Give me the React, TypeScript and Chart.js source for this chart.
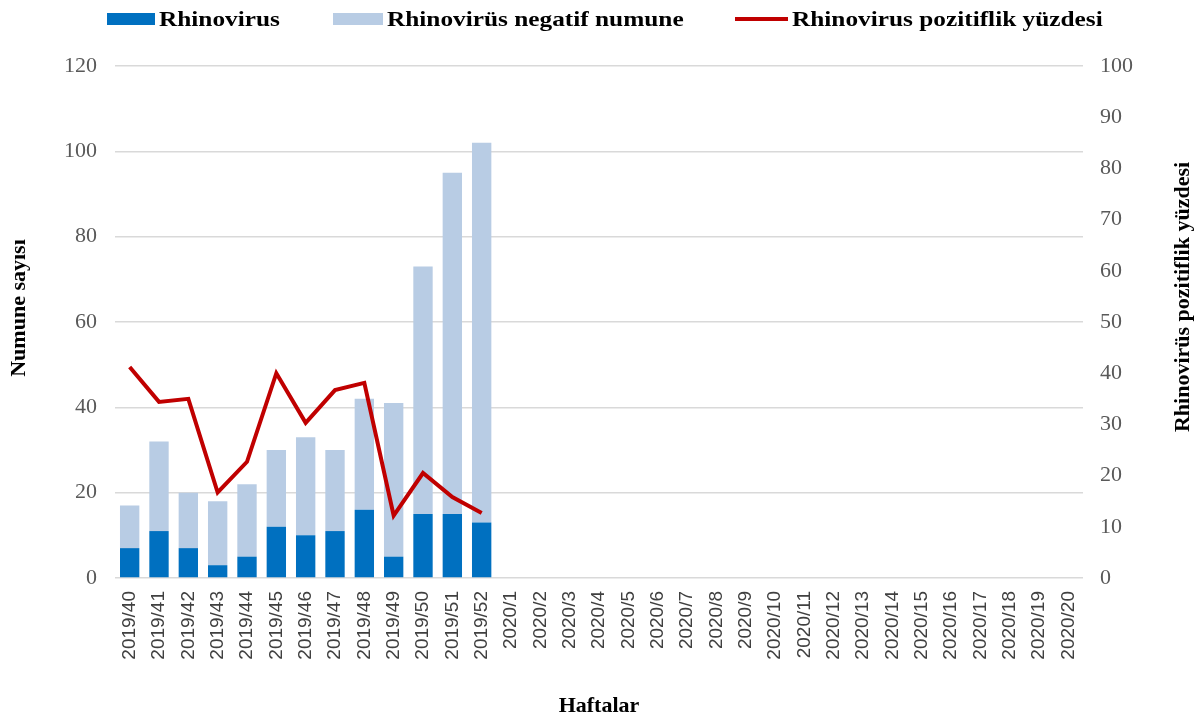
import React, { useEffect, useRef } from "react";
import { Chart, registerables } from "chart.js";

Chart.register(...registerables);

const weeks: string[] = [
  "2019/40", "2019/41", "2019/42", "2019/43", "2019/44", "2019/45", "2019/46",
  "2019/47", "2019/48", "2019/49", "2019/50", "2019/51", "2019/52",
  "2020/1", "2020/2", "2020/3", "2020/4", "2020/5", "2020/6", "2020/7",
  "2020/8", "2020/9", "2020/10", "2020/11", "2020/12", "2020/13", "2020/14",
  "2020/15", "2020/16", "2020/17", "2020/18", "2020/19", "2020/20",
];

const N = null;
const rhinovirus: (number | null)[] = [
  7, 11, 7, 3, 5, 12, 10, 11, 16, 5, 15, 15, 13,
  N, N, N, N, N, N, N, N, N, N, N, N, N, N, N, N, N, N, N, N,
];
const negatif: (number | null)[] = [
  10, 21, 13, 15, 17, 18, 23, 19, 26, 36, 58, 80, 89,
  N, N, N, N, N, N, N, N, N, N, N, N, N, N, N, N, N, N, N, N,
];
const pozitiflik: (number | null)[] = [
  41.2, 34.4, 35.0, 16.7, 22.7, 40.0, 30.3, 36.7, 38.1, 12.2, 20.5, 15.8, 12.7,
  N, N, N, N, N, N, N, N, N, N, N, N, N, N, N, N, N, N, N, N,
];

const leftTicks = { min: 0, max: 120, step: 20 };
const rightTicks = { min: 0, max: 100, step: 10 };

const seriesNames = ["Rhinovirus", "Rhinovirüs negatif numune", "Rhinovirus pozitiflik yüzdesi"];
const leftTitle = "Numune sayısı";
const rightTitle = "Rhinovirüs pozitiflik yüzdesi";
const xTitle = "Haftalar";

const SERIF = "'Liberation Serif', 'Times New Roman', serif";
const SANS = "'Liberation Sans', Arial, sans-serif";

const legendPlugin = {
  id: "customLegend",
  afterDraw(chart: any) {
    const ctx = chart.ctx;
    const xs = [107, 333, 735];
    const sw = [48, 50, 53];
    const cy = 19;
    ctx.save();
    chart.data.datasets.forEach((ds: any, i: number) => {
      const x = xs[i];
      if (ds.type === "line") {
        ctx.strokeStyle = ds.borderColor;
        ctx.lineWidth = 4;
        ctx.beginPath();
        ctx.moveTo(x, cy);
        ctx.lineTo(x + sw[i], cy);
        ctx.stroke();
      } else {
        ctx.fillStyle = ds.backgroundColor;
        ctx.fillRect(x, cy - 6, sw[i], 12);
      }
      ctx.save();
      ctx.translate(x + sw[i] + 4, cy);
      ctx.scale(1.15, 1);
      ctx.fillStyle = "#000";
      ctx.font = `bold 22px ${SERIF}`;
      ctx.textBaseline = "middle";
      ctx.textAlign = "left";
      ctx.fillText(ds.label, 0, 1);
      ctx.restore();
    });
    ctx.restore();
  },
};

const axisTitlePlugin = {
  id: "axisTitles",
  afterDraw(chart: any) {
    const ctx = chart.ctx;
    ctx.save();
    ctx.fillStyle = "#000";
    ctx.font = `bold 22px ${SERIF}`;
    ctx.textAlign = "center";
    ctx.textBaseline = "middle";
    ctx.save();
    ctx.translate(19, 308);
    ctx.rotate(-Math.PI / 2);
    ctx.fillText(leftTitle, 0, 0);
    ctx.restore();
    ctx.save();
    ctx.translate(1183, 297);
    ctx.rotate(-Math.PI / 2);
    ctx.fillText(rightTitle, 0, 0);
    ctx.restore();
    ctx.restore();
  },
};

export default function App() {
  const ref = useRef<HTMLCanvasElement | null>(null);

  useEffect(() => {
    document.body.style.margin = "0";
    const canvas = ref.current;
    if (!canvas) return;
    const chart = new Chart(canvas, {
      type: "bar",
      data: {
        labels: weeks,
        datasets: [
          {
            type: "bar",
            label: seriesNames[0],
            data: rhinovirus,
            yAxisID: "y",
            backgroundColor: "#0070c0",
            barPercentage: 0.66,
            categoryPercentage: 1,
            order: 1,
          },
          {
            type: "bar",
            label: seriesNames[1],
            data: negatif,
            yAxisID: "y",
            backgroundColor: "#b8cce4",
            barPercentage: 0.66,
            categoryPercentage: 1,
            order: 1,
          },
          {
            type: "line",
            label: seriesNames[2],
            data: pozitiflik,
            yAxisID: "y1",
            borderColor: "#c00000",
            backgroundColor: "#c00000",
            borderWidth: 4,
            pointRadius: 0,
            tension: 0,
            order: 0,
          } as any,
        ],
      },
      options: {
        responsive: false,
        animation: false,
        devicePixelRatio: 1,
        layout: { padding: { top: 66, left: 0, right: 0, bottom: 0 } },
        plugins: {
          legend: { display: false },
          tooltip: { enabled: false },
        },
        scales: {
          x: {
            stacked: true,
            grid: { display: false, drawTicks: false },
            border: { display: false },
            ticks: {
              autoSkip: false,
              minRotation: 90,
              maxRotation: 90,
              padding: 13,
              color: "#404040",
              font: { family: SANS, size: 19 },
            },
            title: {
              display: true,
              text: xTitle,
              color: "#000",
              font: { family: SERIF, size: 22, weight: "bold" },
              padding: { top: 0, bottom: 0 },
            },
            afterFit(scale: any) {
              scale.height = 142;
            },
          },
          y: {
            stacked: true,
            position: "left",
            min: leftTicks.min,
            max: leftTicks.max,
            grid: { color: "#d9d9d9", lineWidth: 1.5, drawTicks: false },
            border: { display: false },
            ticks: {
              stepSize: leftTicks.step,
              padding: 18,
              color: "#595959",
              font: { family: SERIF, size: 22 },
            },
            afterFit(scale: any) {
              scale.width = 115;
            },
          },
          y1: {
            position: "right",
            min: rightTicks.min,
            max: rightTicks.max,
            grid: { display: false, drawTicks: false },
            border: { display: false },
            ticks: {
              stepSize: rightTicks.step,
              padding: 17,
              color: "#595959",
              font: { family: SERIF, size: 22 },
            },
            afterFit(scale: any) {
              scale.width = 118;
            },
          },
        },
      } as any,
      plugins: [legendPlugin, axisTitlePlugin],
    });
    return () => chart.destroy();
  }, []);

  return <canvas ref={ref} width={1201} height={720} style={{ display: "block" }} />;
}
